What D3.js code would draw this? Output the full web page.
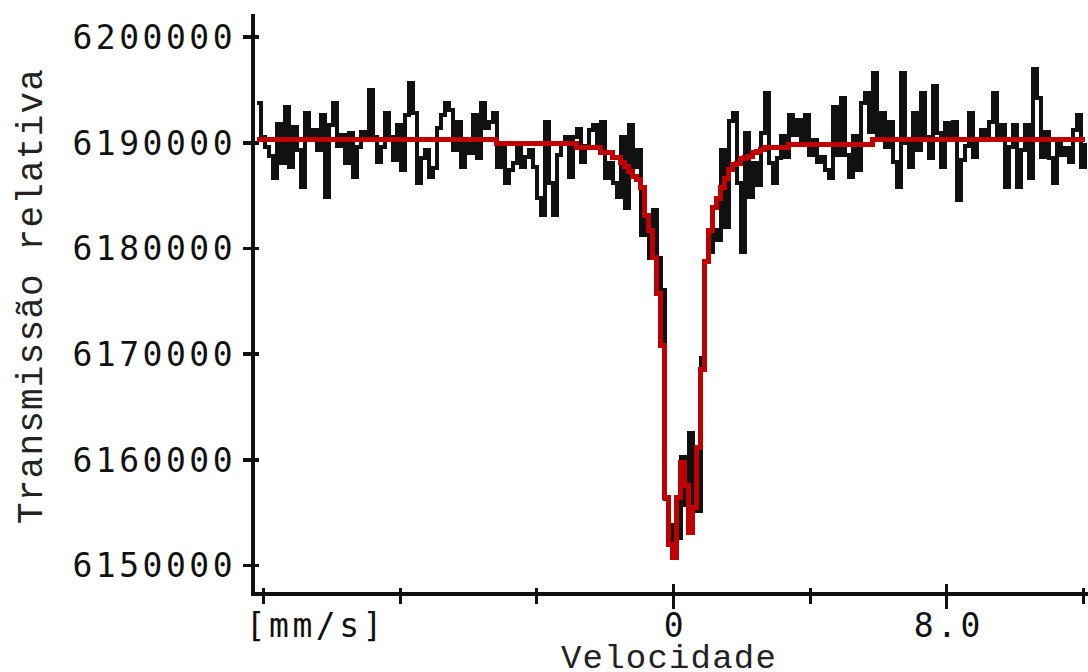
<!DOCTYPE html>
<html>
<head>
<meta charset="utf-8">
<script src="https://cdn.jsdelivr.net/npm/d3@7"></script>
<style>
  body { margin: 0; background: #fff; }
  svg { display: block; }
  .num { font-family: "DejaVu Sans Mono", monospace; font-size: 33px; fill: #111; letter-spacing: 3.5px; }
  .title { font-family: "Liberation Mono", "DejaVu Sans Mono", monospace; font-size: 36px; fill: #222; letter-spacing: 1.2px; }
</style>
</head>
<body>
<script>
// channel velocities (mm/s) : first channel and channel width
var vStart = -12.18
var vStep = 0.1171

// measured transmission, one value per channel
var counts = [
  6193700, 6190500, 6189600, 6188700, 6186600, 6191700, 6188000, 6193300, 6187700, 6191500,
  6189300, 6185800, 6192800, 6190200, 6191200, 6189300, 6192600, 6184800, 6191600, 6193700,
  6189700, 6190700, 6188000, 6190900, 6186700, 6189600, 6191000, 6190200, 6195000, 6190500,
  6188100, 6189600, 6192800, 6190500, 6188300, 6191600, 6187400, 6192600, 6195600, 6192800,
  6186200, 6188500, 6189300, 6186700, 6187600, 6191400, 6192600, 6193700, 6193100, 6189300,
  6191900, 6187700, 6190000, 6189000, 6192600, 6188500, 6193700, 6191400, 6191900, 6192800,
  6187700, 6189600, 6186200, 6187400, 6188000, 6189600, 6187700, 6188600, 6189300, 6187700,
  6184700, 6183100, 6191900, 6186200, 6183100, 6188800, 6189900, 6190500, 6186700, 6190500,
  6191300, 6188100, 6189700, 6191200, 6191600, 6189600, 6191900, 6186600, 6188000, 6186200,
  6184800, 6190500, 6183800, 6191600, 6187700, 6189300, 6181200, 6183100, 6179100, 6183600,
  6179100, 6176000, 6156200, 6153800, 6152200, 6152600, 6160200, 6155700, 6162500, 6155700,
  6155100, 6169600, 6178700, 6179600, 6181700, 6180800, 6189300, 6182000, 6192000, 6192800,
  6186200, 6179600, 6190900, 6184800, 6188000, 6186000, 6190900, 6194700, 6188000, 6186200,
  6188500, 6190600, 6188600, 6192600, 6190700, 6192100, 6190000, 6192600, 6188800, 6190200,
  6188100, 6188600, 6187400, 6186600, 6193300, 6188800, 6194200, 6188800, 6186700, 6190600,
  6187400, 6193700, 6194700, 6191000, 6196600, 6190500, 6192800, 6189600, 6191900, 6188100,
  6185800, 6196600, 6189900, 6187700, 6192800, 6189300, 6194700, 6190500, 6188500, 6195300,
  6190900, 6187700, 6191800, 6190200, 6191900, 6184500, 6188300, 6189700, 6192800, 6188600,
  6190200, 6191200, 6190500, 6191900, 6194700, 6190200, 6191600, 6185800, 6189600, 6191600,
  6185800, 6189300, 6191600, 6186600, 6196900, 6194200, 6188600, 6191000, 6188500, 6186200,
  6190000, 6188800, 6189500, 6188100, 6191200, 6192600, 6187700, 6189900
]

// fitted curve, same channels
var fit = [
  6190300, 6190300, 6190300, 6190300, 6190300, 6190300, 6190300, 6190300, 6190300, 6190300,
  6190300, 6190300, 6190300, 6190300, 6190300, 6190300, 6190300, 6190300, 6190300, 6190300,
  6190300, 6190300, 6190300, 6190300, 6190300, 6190300, 6190300, 6190300, 6190300, 6190300,
  6190300, 6190300, 6190300, 6190300, 6190300, 6190300, 6190300, 6190300, 6190300, 6190300,
  6190300, 6190300, 6190300, 6190300, 6190300, 6190300, 6190300, 6190300, 6190300, 6190300,
  6190300, 6190300, 6190300, 6190300, 6190300, 6190300, 6190300, 6190300, 6190300, 6190300,
  6189900, 6189900, 6189900, 6189900, 6189900, 6189900, 6189900, 6189900, 6189900, 6189900,
  6189900, 6189900, 6189900, 6189900, 6189900, 6189900, 6189900, 6189900, 6189900, 6189900,
  6189500, 6189500, 6189500, 6189500, 6189500, 6189500, 6189000, 6189000, 6189000, 6188600,
  6188600, 6188100, 6187700, 6187200, 6186800, 6186500, 6185700, 6183100, 6181700, 6179100,
  6175700, 6170800, 6156400, 6151900, 6150700, 6156400, 6159700, 6157500, 6153100, 6155400,
  6161100, 6168500, 6178700, 6181700, 6183800, 6184700, 6185700, 6186600, 6187400, 6187900,
  6188000, 6188500, 6188600, 6188700, 6189000, 6189100, 6189300, 6189500, 6189500, 6189500,
  6189500, 6189500, 6189500, 6189800, 6189800, 6189800, 6189800, 6189800, 6189800, 6189800,
  6189800, 6189800, 6189800, 6189800, 6189800, 6189800, 6189800, 6189800, 6189800, 6189800,
  6189800, 6189800, 6189800, 6189800, 6190300, 6190300, 6190300, 6190300, 6190300, 6190300,
  6190300, 6190300, 6190300, 6190300, 6190300, 6190300, 6190300, 6190300, 6190300, 6190300,
  6190300, 6190300, 6190300, 6190300, 6190300, 6190300, 6190300, 6190300, 6190300, 6190300,
  6190300, 6190300, 6190300, 6190300, 6190300, 6190300, 6190300, 6190300, 6190300, 6190300,
  6190300, 6190300, 6190300, 6190300, 6190300, 6190300, 6190300, 6190300, 6190300, 6190300,
  6190300, 6190300, 6190300, 6190300, 6190300, 6190300, 6190300, 6190300
]

var yTicks = [6150000, 6160000, 6170000, 6180000, 6190000, 6200000]
var xTicks = [-12, -8, -4, 0, 4, 8, 12]
var xMajor = [0, 8]
var xLabels = {"-12": "[mm/s]", "0": "0", "8": "8.0"}

const w = 1088, h = 672

const x = d3.scaleLinear().domain([-12, 12]).range([263.2, 1082.8])
const y = d3.scaleLinear().domain([6150000, 6200000]).range([565, 36.7])

const svg = d3.select("body").append("svg")
              .attr("width", w)
              .attr("height", h)

// axis lines (frame)
svg.append("line")
   .attr("x1", 253).attr("x2", 253).attr("y1", 14).attr("y2", 596)
   .attr("stroke", "#111").attr("stroke-width", 4).attr("shape-rendering", "crispEdges")
svg.append("line")
   .attr("x1", 251).attr("x2", w).attr("y1", 594).attr("y2", 594)
   .attr("stroke", "#111").attr("stroke-width", 4).attr("shape-rendering", "crispEdges")

// y axis
const yAxis = d3.axisLeft(y).tickValues(yTicks).tickSize(0).tickFormat(d3.format("d"))
const gy = svg.append("g").attr("transform", "translate(253,0)").call(yAxis)
gy.select(".domain").remove()
gy.selectAll(".tick line")
  .attr("x1", -10).attr("x2", 6)
  .attr("stroke", "#111").attr("stroke-width", 3.5).attr("shape-rendering", "crispEdges")
gy.selectAll(".tick text")
  .attr("class", "num")
  .attr("x", -17).attr("dy", "0.36em")
  .attr("text-anchor", "end")
  .attr("font-family", null).attr("font-size", null)

// x axis
const xAxis = d3.axisBottom(x).tickValues(xTicks).tickSize(0).tickFormat(d => xLabels[d] || "")
const gx = svg.append("g").attr("transform", "translate(0,594)").call(xAxis)
gx.select(".domain").remove()
gx.selectAll(".tick line")
  .attr("y1", d => xMajor.includes(d) ? -10 : -6)
  .attr("y2", d => xMajor.includes(d) ? 15 : 10)
  .attr("stroke", "#111").attr("stroke-width", 3).attr("shape-rendering", "crispEdges")
gx.selectAll(".tick text")
  .attr("class", "num")
  .attr("y", 43).attr("dy", 0)
  .attr("font-family", null).attr("font-size", null)
  .attr("text-anchor", d => d == -12 ? "start" : "middle")
  .attr("x", d => d == -12 ? -18 : 2)

// measured spectrum
const line = d3.line()
               .x((d, i) => x(vStart + i * vStep))
               .y(d => y(d))
               .curve(d3.curveStepAfter)

svg.append("path")
   .datum(counts)
   .attr("d", line)
   .attr("fill", "none")
   .attr("stroke", "#111")
   .attr("stroke-width", 4)
   .attr("shape-rendering", "crispEdges")

// fit
svg.append("path")
   .datum(fit)
   .attr("d", line)
   .attr("fill", "none")
   .attr("stroke", "#c00000")
   .attr("stroke-width", 5)
   .attr("shape-rendering", "crispEdges")

// titles
svg.append("text")
   .attr("class", "title")
   .attr("transform", "translate(42,296) rotate(-90)")
   .attr("text-anchor", "middle")
   .text("Transmissão relativa")

svg.append("text")
   .attr("class", "title")
   .attr("x", 669).attr("y", 668)
   .attr("font-size", 34)
   .style("font-size", "34px")
   .attr("text-anchor", "middle")
   .text("Velocidade")
</script>
</body>
</html>
